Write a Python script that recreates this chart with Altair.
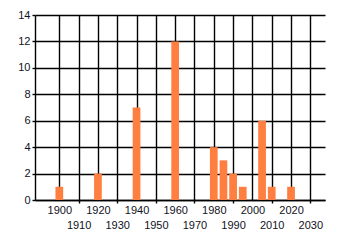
import altair as alt
import pandas as pd

years = [1900, 1920, 1940, 1960, 1980, 1985, 1990, 1995, 2005, 2010, 2020]
counts = [1, 2, 7, 12, 4, 3, 2, 1, 6, 1, 1]
x_ticks = list(range(1900, 2031, 10))
y_ticks = list(range(0, 15, 2))

df = pd.DataFrame({"year": years, "count": counts})

font = "Liberation Sans"
lw = 1.4

chart = alt.Chart(df).transform_calculate(
    x0="datum.year - 2", x1="datum.year + 2", base="0"
).mark_bar(color="#FF7F40", orient="vertical").encode(
    x=alt.X("x0:Q",
            scale=alt.Scale(domain=[1890, 2035], nice=False, zero=False),
            axis=alt.Axis(values=x_ticks, title=None, format="d",
                          grid=True, gridColor="black", gridWidth=lw, gridOpacity=1,
                          domainColor="black", domainWidth=lw,
                          tickColor="black", tickSize=3, tickWidth=lw,
                          tickOpacity={"expr": "datum.value % 20 == 0 ? 0 : 1"},
                          labelPadding={"expr": "datum.value % 20 == 0 ? 1 : 16"},
                          labelFont=font, labelFontSize=11, labelColor="#111122",
                          labelFlush=False, labelOverlap=False, labelBound=False)),
    x2="x1:Q",
    y=alt.Y("count:Q",
            scale=alt.Scale(domain=[0, 14], nice=False),
            axis=alt.Axis(values=y_ticks, title=None,
                          grid=True, gridColor="black", gridWidth=lw, gridOpacity=1,
                          domainColor="black", domainWidth=lw,
                          tickColor="black", tickSize=3, tickWidth=lw, labelPadding=2,
                          labelFont=font, labelFontSize=11, labelColor="#111122",
                          labelOverlap=False)),
    y2="base:Q",
).properties(
    width=290, height=185,
    autosize=alt.AutoSizeParams(type="none"),
    padding={"left": 35, "top": 15, "right": 15, "bottom": 45},
).configure_view(stroke=None)

chart.save("out.html", embed_options={"renderer": "svg", "actions": False})
